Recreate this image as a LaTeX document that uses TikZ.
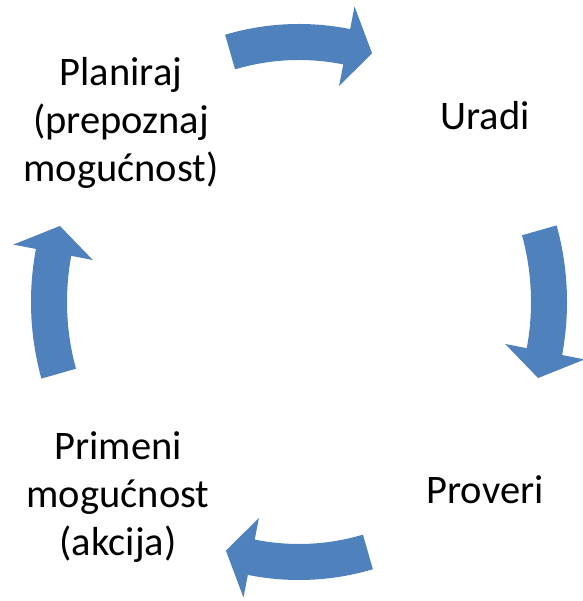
\documentclass[tikz,border=0pt]{standalone}
\usepackage{fontspec}
\setmainfont{Carlito}
\definecolor{cycleblue}{HTML}{4F81BD}
\begin{document}
\begin{tikzpicture}[x=1pt,y=1pt,
  label/.style={align=center,font=\fontsize{40.5}{48}\selectfont,text=black,inner sep=0pt},
  cyclearrow/.style={fill=cycleblue}]
\useasboundingbox (0,0) rectangle (582,601);
% stage labels
\node[label] (plan) at (121,478) {Planiraj\\(prepoznaj\\mogućnost)};
\node[label] (do)   at (485,485) {Uradi};
\node[label] (check) at (485,111) {Proveri};
\node[label] (act)  at (118,104) {Primeni\\mogućnost\\(akcija)};
% curved block arrows around the cycle (clockwise)
\begin{scope}[shift={(299,299)}]
\foreach \t in {106,16,-74,-164}{
  \pgfmathsetmacro{\b}{\t-27}
  \pgfmathsetmacro{\p}{\t-33}
  \fill[cyclearrow] (\t:268 and 278)
    arc[start angle=\t, end angle=\b, x radius=268, y radius=278]
    -- (\b:291 and 301) -- (\p:250 and 260) -- (\b:210 and 220)
    -- (\b:232 and 242)
    arc[start angle=\b, end angle=\t, x radius=232, y radius=242]
    -- cycle;
}
\end{scope}
\end{tikzpicture}
\end{document}
